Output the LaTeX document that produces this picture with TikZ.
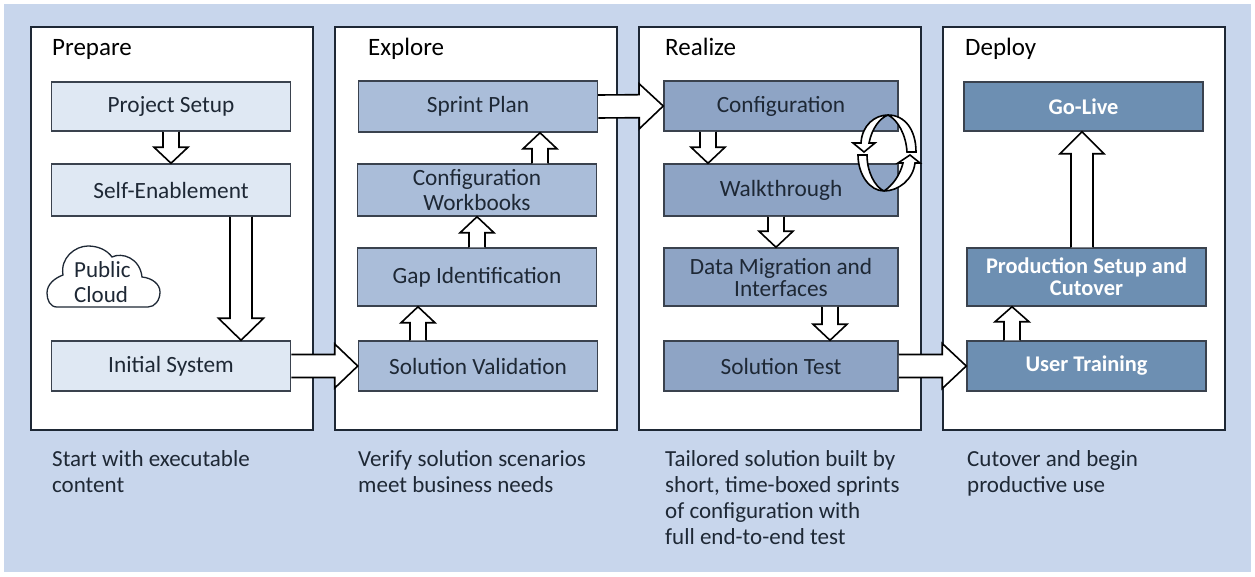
\documentclass[tikz,border=0pt]{standalone}
\usepackage{fontspec}
\setmainfont{Carlito}
\usetikzlibrary{calc}
\definecolor{bgblue}{HTML}{C8D6EC}
\definecolor{prepfill}{HTML}{DFE8F3}
\definecolor{explfill}{HTML}{AABDD9}
\definecolor{realfill}{HTML}{8EA4C5}
\definecolor{deplfill}{HTML}{6D8FB2}
\definecolor{inkdark}{HTML}{1E2835}
\definecolor{edgegrey}{HTML}{3A424E}
\tikzset{
  panelbox/.style={rectangle,draw=inkdark,line width=1.4pt,fill=white,minimum width=282pt,minimum height=403pt,inner sep=0pt},
  stepbox/.style={rectangle,draw=edgegrey,line width=1.5pt,minimum width=239pt,inner sep=0pt,align=center,text=inkdark,font=\fontsize{23.3}{25}\selectfont},
  tightbox/.style={font=\fontsize{23.3}{22}\selectfont},
  deploybox/.style={stepbox,fill=deplfill,text=white,font=\fontsize{22.4}{22}\selectfont\bfseries},
  paneltitle/.style={anchor=base west,inner sep=0pt,text=black,font=\fontsize{25}{28}\selectfont},
  noteline/.style={anchor=north west,inner sep=0pt,align=left,text=inkdark,font=\fontsize{23}{26}\selectfont},
  arrowline/.style={draw=black,line width=1.6pt,fill=white,line join=miter}
}
\newcommand{\blockarrow}[5]{
  \path #1 coordinate (ba) #2 coordinate (bb);
  \coordinate (bc) at ($(bb)!#5pt!(ba)$);
  \draw[arrowline] ($(ba)!#3pt!90:(bb)$)--($(bc)!#3pt!-90:(ba)$)--($(bc)!#4pt!-90:(ba)$)--(bb)--($(bc)!#4pt!90:(ba)$)--($(bc)!#3pt!90:(ba)$)--($(ba)!#3pt!-90:(bb)$);
}
\begin{document}
\begin{tikzpicture}[x=1pt,y=-1pt]
\useasboundingbox (0,0) rectangle (1255,576);
\fill[bgblue] (4,4) rectangle (1251,572);

\node (prepare) at (172,228.5)[panelbox]{};
\node (explore) at (476,228.5)[panelbox]{};
\node (realize) at (780,228.5)[panelbox]{};
\node (deploy) at (1084,228.5)[panelbox]{};
\node (preparetitle) at (52,55)[paneltitle]{Prepare};
\node (exploretitle) at (368,55)[paneltitle]{Explore};
\node (realizetitle) at (665,55)[paneltitle]{Realize};
\node (deploytitle) at (965,55)[paneltitle]{Deploy};

\node (projsetup) at (171,106.5)[stepbox,fill=prepfill,minimum height=49pt]{Project Setup};
\node (selfen) at (171,190)[stepbox,fill=prepfill,minimum height=52pt]{Self-Enablement};
\node (initsys) at (171,366)[stepbox,fill=prepfill,minimum height=50pt]{Initial System};

\node (sprint) at (478,106.5)[stepbox,fill=explfill,minimum height=51pt]{Sprint Plan};
\node (workbooks) at (477,190)[stepbox,fill=explfill,minimum height=52pt]{Configuration\\Workbooks};
\node (gapid) at (477,277)[stepbox,fill=explfill,minimum height=58pt]{Gap Identification};
\node (solval) at (478,366)[stepbox,fill=explfill,minimum height=50pt]{Solution Validation};

\node (config) at (781,106)[stepbox,fill=realfill,minimum width=234pt,minimum height=50pt]{Configuration};
\node (walk) at (781,190)[stepbox,fill=realfill,minimum width=234pt,minimum height=52pt]{Walkthrough};
\node (datamig) at (781,277)[stepbox,tightbox,fill=realfill,minimum width=234pt,minimum height=58pt]{Data Migration and\\Interfaces};
\node (soltest) at (781,366)[stepbox,fill=realfill,minimum width=234pt,minimum height=50pt]{Solution Test};

\node (golive) at (1083.5,106.5)[deploybox,minimum height=49pt]{Go-Live};
\node (prodsetup) at (1086.5,277)[deploybox,minimum height=58pt]{Production Setup and\\Cutover};
\node (training) at (1086.5,366)[deploybox,minimum height=50pt]{User Training};

\draw[line width=1.3pt,draw=inkdark,fill=white] (57,307) .. controls (50,307) and (47,300) .. (47,293) .. controls (47,284) and (55,278) .. (63,275) .. controls (60,258) and (75,246) .. (88,246) .. controls (98,246) and (107,250) .. (112,257) .. controls (122,252) and (140,258) .. (142,277) .. controls (152,278) and (160,284) .. (160,292) .. controls (160,300) and (155,307) .. (148,307) -- cycle;
\node (cloudtext) at (74,282.5)[anchor=west,inner sep=0pt,align=left,text=inkdark,font=\fontsize{23}{25}\selectfont]{Public\\Cloud};

\node (notea) at (52,450)[noteline]{Start with executable\\content};
\node (noteb) at (358,450)[noteline]{Verify solution scenarios\\meet business needs};
\node (notec) at (665,450)[noteline]{Tailored solution built by\\short, time-boxed sprints\\of configuration with\\full end-to-end test};
\node (noted) at (967,450)[noteline]{Cutover and begin\\productive use};

\blockarrow{(projsetup.south)}{(selfen.north)}{8}{17}{16}
\blockarrow{([xshift=70]selfen.south)}{([xshift=70]initsys.north)}{11}{22.5}{22}
\blockarrow{(initsys.east)}{(solval.west)}{11.5}{22}{23}
\blockarrow{([xshift=-60]solval.north)}{([xshift=-59]gapid.south)}{8}{17}{16}
\blockarrow{(gapid.north)}{(workbooks.south)}{8}{17}{16}
\blockarrow{([xshift=63]workbooks.north)}{([xshift=62]sprint.south)}{8}{17}{16}
\blockarrow{(sprint.east)}{(config.west)}{11.5}{22.5}{24}
\blockarrow{([xshift=-73]config.south)}{([xshift=-73]walk.north)}{8}{17}{16}
\blockarrow{([xshift=-5]walk.south)}{([xshift=-5]datamig.north)}{8}{17}{16}
\blockarrow{([xshift=49]datamig.south)}{([xshift=49]soltest.north)}{8}{17}{16}
\blockarrow{(soltest.east)}{(training.west)}{11.5}{22.5}{24}
\blockarrow{([xshift=-74.5]training.north)}{([xshift=-74.5]prodsetup.south)}{8}{17}{15}
\blockarrow{([xshift=-4.5]prodsetup.north)}{([xshift=-1.5]golive.south)}{11}{22}{22}

\draw[arrowline] (916,152) .. controls (916,130) and (905,115) .. (888,115) .. controls (875,115) and (862,125) .. (861,143) -- (853,143) -- (864,152) -- (875,143) -- (869,143) .. controls (872,128) and (880,118) .. (888,115) .. controls (898,120) and (906,135) .. (907,152) -- cycle;
\draw[arrowline] (858,155) .. controls (858,175) and (870,191) .. (884,191) .. controls (898,191) and (913,180) .. (915,163) -- (920,163) -- (910,155) -- (898,163) -- (903,163) .. controls (900,175) and (893,185) .. (884,191) .. controls (875,187) and (867,172) .. (867,155) -- cycle;
\end{tikzpicture}
\end{document}
